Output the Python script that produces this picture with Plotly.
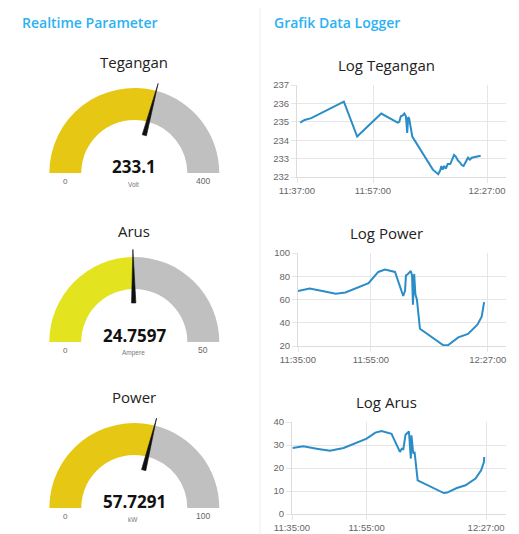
import plotly.graph_objects as go

W, H = 519, 534
OFF = 8  # browser default body margin
FW, FH = W - OFF, H - OFF

# ---------------- data ----------------
gauge_titles = ["Tegangan", "Arus", "Power"]
gauge_values = [233.1, 24.7597, 57.7291]
gauge_labels = ["233.1", "24.7597", "57.7291"]
gauge_max = [400, 50, 100]
gauge_units = ["Volt", "Ampere", "kW"]
gauge_colors = ["#e6c713", "#e3e31f", "#e6c713"]

teg_time = ["11:37:50", "11:39:00", "11:40:45", "11:49:20", "11:52:50", "11:59:10",
            "12:03:30", "12:03:55", "12:04:20", "12:04:50", "12:05:15", "12:05:40",
            "12:06:00", "12:06:15", "12:06:30", "12:06:50", "12:07:20", "12:12:45",
            "12:13:30", "12:14:10", "12:14:40", "12:15:00", "12:15:20", "12:15:45",
            "12:16:10", "12:16:40", "12:17:20", "12:17:50", "12:18:20", "12:18:50",
            "12:19:20", "12:19:50", "12:20:20", "12:20:50", "12:21:30", "12:22:00",
            "12:22:30", "12:23:00", "12:25:20"]
teg_val = [234.95, 235.1, 235.2, 236.1, 234.2, 235.45,
           234.95, 235.0, 235.3, 235.35, 235.45, 235.3,
           234.4, 235.25, 235.2, 234.8, 234.2, 232.4,
           232.25, 232.15, 232.35, 232.6, 232.4, 232.6,
           232.45, 232.7, 232.7, 232.95, 233.2, 233.1,
           232.9, 232.8, 232.65, 232.6, 232.85, 233.05,
           232.95, 233.05, 233.15]

pow_time = ["11:35:00", "11:38:10", "11:41:40", "11:45:20", "11:48:00", "11:50:40",
            "11:54:20", "11:57:00", "11:58:50", "12:01:35", "12:02:55", "12:03:50",
            "12:04:20", "12:04:35", "12:05:00", "12:05:55", "12:06:15", "12:06:30",
            "12:06:50", "12:07:10", "12:07:35", "12:08:25", "12:14:50", "12:16:05",
            "12:18:55", "12:21:35", "12:24:10", "12:25:20", "12:26:00"]
pow_val = [67.4, 69.5, 67.4, 65.0, 66.0, 69.5,
           74.0, 83.7, 85.8, 83.7, 70.4, 63.0,
           67.4, 80.7, 81.5, 84.6, 80.7, 55.6,
           82.0, 64.4, 60.0, 34.8, 20.6, 20.6,
           27.4, 30.4, 38.4, 45.2, 57.7]

arus_time = ["11:35:10", "11:38:00", "11:41:35", "11:45:10", "11:48:50", "11:52:25",
             "11:55:00", "11:57:20", "11:59:00", "12:01:40", "12:03:00", "12:03:55",
             "12:04:25", "12:04:50", "12:05:25", "12:06:20", "12:06:50", "12:07:00",
             "12:07:30", "12:07:50", "12:08:40", "12:15:40", "12:16:35", "12:19:10",
             "12:21:30", "12:24:10", "12:25:40", "12:26:25", "12:26:30"]
arus_val = [28.7, 29.4, 28.4, 27.5, 28.7, 30.9,
            32.8, 35.4, 36.1, 34.9, 29.9, 27.0,
            28.4, 28.2, 34.5, 35.9, 24.1, 34.2,
            26.2, 27.0, 14.6, 9.1, 9.3, 11.3,
            12.5, 15.4, 19.0, 22.6, 24.76]

chart_titles = ["Log Tegangan", "Log Power", "Log Arus"]
chart_times = [teg_time, pow_time, arus_time]
chart_vals = [teg_val, pow_val, arus_val]
chart_ticks = [["11:37:00", "11:57:00", "12:27:00"],
               ["11:35:00", "11:55:00", "12:27:00"],
               ["11:35:00", "11:55:00", "12:27:00"]]
chart_xrange = [["11:37:00", "12:32:00"], ["11:35:00", "12:32:00"], ["11:35:00", "12:32:20"]]
chart_yrange = [[232, 237], [20, 100], [0, 40]]
chart_ydtick = [1, 20, 10]

DAY = "2024-01-01 "

# ---------------- layout geometry (screen pixels -> paper) ----------------
def fx(px):
    return (px - OFF) / FW

def fy(py):
    return 1 - (py - OFF) / FH

gauge_cx = 134.3
gauge_cy = [173, 342, 508]
R_OUT = 85
R_RANGE = 1.1
INNER = 0.624

chart_box = [(297, 506, 85, 177), (298, 506, 253, 346), (292, 506, 422, 514)]
chart_title_y = [65, 233, 402]

fig = go.Figure()
annotations = []
layout = {}

font_main = "Open Sans"


def ann(x, y, text, size, color, family=font_main, weight="normal", xanchor="center"):
    annotations.append(dict(x=fx(x), y=fy(y), xref="paper", yref="paper", text=text,
                            showarrow=False, xanchor=xanchor, yanchor="middle",
                            font=dict(family=family, size=size, color=color, weight=weight)))


# ---------------- gauges ----------------
for i in range(3):
    pname = "polar" if i == 0 else f"polar{i+1}"
    frac = gauge_values[i] / gauge_max[i]
    ang = frac * 180
    fig.add_trace(go.Barpolar(
        r=[1 - INNER, 1 - INNER], base=[INNER, INNER],
        theta=[ang / 2, (ang + 180) / 2], width=[ang, 180 - ang],
        marker=dict(color=[gauge_colors[i], "#c0c0c0"], line=dict(width=0)),
        subplot=pname, showlegend=False, hoverinfo="skip"))
    d = 3.2
    fig.add_trace(go.Scatterpolar(
        r=[0.46, 1.09, 0.46, 0.46], theta=[ang - d, ang, ang + d, ang - d],
        mode="lines", fill="toself", fillcolor="#111111",
        line=dict(color="#111111", width=0.6),
        subplot=pname, showlegend=False, hoverinfo="skip", cliponaxis=False))
    Rp = R_OUT * R_RANGE
    cy = gauge_cy[i]
    layout[pname] = dict(
        domain=dict(x=[fx(gauge_cx - Rp), fx(gauge_cx + Rp)], y=[fy(cy), fy(cy - Rp)]),
        sector=[0, 180], bgcolor="rgba(0,0,0,0)",
        radialaxis=dict(range=[0, R_RANGE], visible=False, showgrid=False),
        angularaxis=dict(direction="clockwise", rotation=180, visible=False,
                         showgrid=False),
        bargap=0)
    ann(gauge_cx, cy - 111, gauge_titles[i], 15, "#222222")
    ann(gauge_cx, cy - 7, gauge_labels[i], 17, "#111111", weight="bold")
    mid = R_OUT * (1 + INNER) / 2
    ann(gauge_cx - mid, cy + 8, "0", 8, "#666666", family="Liberation Sans")
    ann(gauge_cx + mid, cy + 8, str(gauge_max[i]), 8.5, "#666666", family="Liberation Sans")
    ann(gauge_cx - 1, cy + 11, gauge_units[i], 6.5, "#777777", family="Liberation Sans")

# ---------------- line charts ----------------
for i in range(3):
    xa = "x" if i == 0 else f"x{i+1}"
    ya = "y" if i == 0 else f"y{i+1}"
    xname = "xaxis" if i == 0 else f"xaxis{i+1}"
    yname = "yaxis" if i == 0 else f"yaxis{i+1}"
    fig.add_trace(go.Scatter(
        x=[DAY + t for t in chart_times[i]], y=chart_vals[i], mode="lines",
        line=dict(color="#2a8dc8", width=2), xaxis=xa, yaxis=ya,
        showlegend=False, hoverinfo="skip"))
    x0, x1, y0, y1 = chart_box[i]
    layout[xname] = dict(
        domain=[fx(x0), fx(x1)], anchor=ya, type="date",
        range=[DAY + chart_xrange[i][0], DAY + chart_xrange[i][1]],
        tickvals=[DAY + t for t in chart_ticks[i]], ticktext=chart_ticks[i],
        showgrid=True, gridcolor="#e6e6e6", gridwidth=1,
        ticks="outside", ticklen=5, tickcolor="#e6e6e6",
        showline=True, linecolor="#dcdcdc", linewidth=1,
        zeroline=False,
        tickfont=dict(family="Liberation Sans", size=9.5, color="#666666"))
    layout[yname] = dict(
        domain=[fy(y1), fy(y0)], anchor=xa,
        range=chart_yrange[i], dtick=chart_ydtick[i], tick0=0,
        showgrid=True, gridcolor="#e6e6e6", gridwidth=1,
        ticks="outside", ticklen=5, tickcolor="#e6e6e6",
        showline=True, linecolor="#dcdcdc", linewidth=1,
        zeroline=False,
        tickfont=dict(family="Liberation Sans", size=9.5, color="#666666"))
    ann(386.5, chart_title_y[i], chart_titles[i], 15, "#222222")

# ---------------- group headings ----------------
ann(20, 22, "Realtime Parameter", 14, "#2ab2f2", weight=600, xanchor="left")
ann(272, 22, "Grafik Data Logger", 14, "#2ab2f2", weight=600, xanchor="left")

shapes = [
    dict(type="rect", xref="paper", yref="paper", x0=fx(512), x1=1.01, y0=-0.01, y1=fy(8),
         fillcolor="#f7f7f7", line=dict(width=0), layer="below"),
    dict(type="line", xref="paper", yref="paper", x0=fx(260), x1=fx(260), y0=-0.01, y1=fy(8),
         line=dict(color="#eeeeee", width=1), layer="below"),
]

fig.update_layout(
    width=FW, height=FH, margin=dict(l=0, r=0, t=0, b=0),
    paper_bgcolor="white", plot_bgcolor="rgba(0,0,0,0)",
    template="none", showlegend=False,
    annotations=annotations, shapes=shapes, **layout)

fig.write_html("out.html")
